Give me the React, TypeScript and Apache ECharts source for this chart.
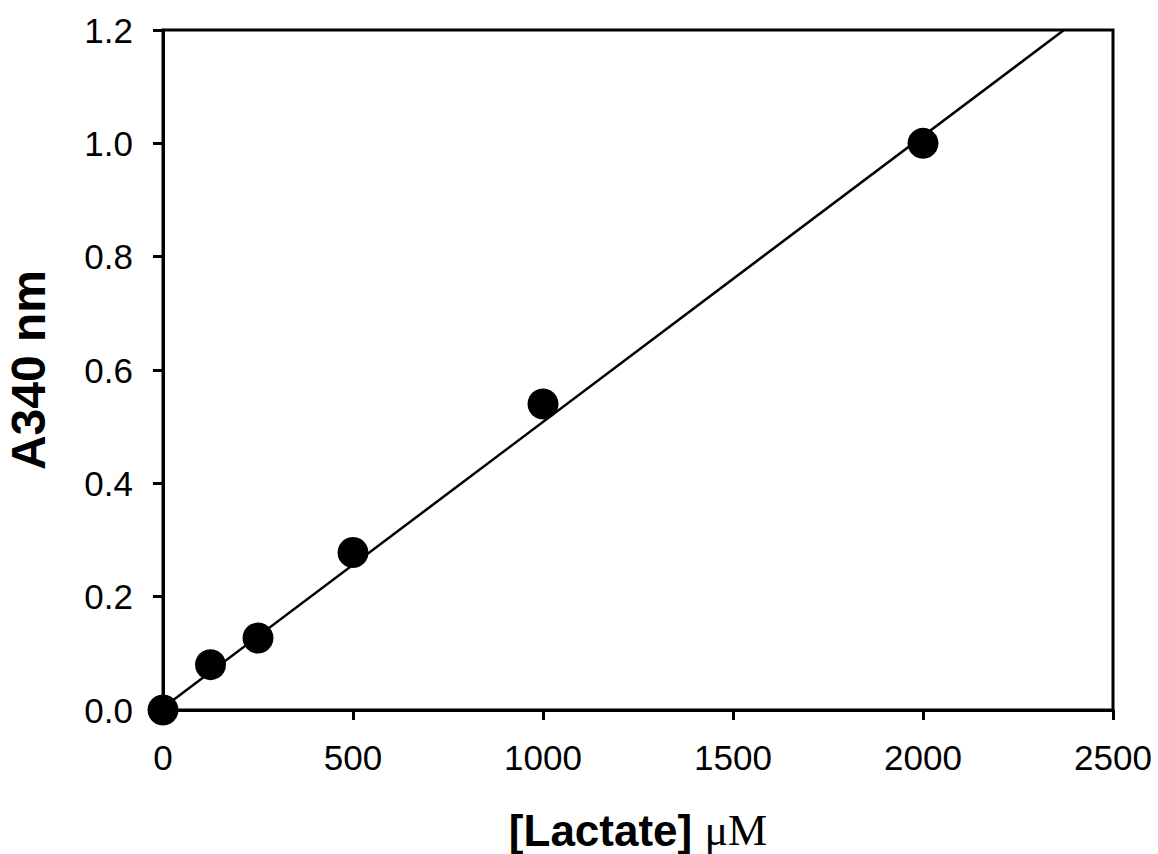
import React, { useEffect, useRef } from "react";
import * as echarts from "echarts";

// Measured points: [Lactate] (µM) vs A340 nm
const lactate = [0, 125, 250, 500, 1000, 2000];
const absorbance = [0, 0.08, 0.127, 0.278, 0.54, 1.0];

// Regression line endpoints
const fitLactate = [0, 2371];
const fitAbsorbance = [0.004, 1.2];

const xTicks = { min: 0, max: 2500, interval: 500 };
const yTicks = { min: 0, max: 1.2, interval: 0.2 };

const FONT = "'Liberation Sans', Arial, sans-serif";

export default function App() {
  const ref = useRef<HTMLDivElement>(null);

  useEffect(() => {
    if (!ref.current) return;
    const chart = echarts.init(ref.current, undefined, { renderer: "svg" });
    const points = lactate.map((x, i) => [x, absorbance[i]]);
    const fit = fitLactate.map((x, i) => [x, fitAbsorbance[i]]);

    chart.setOption({
      animation: false,
      backgroundColor: "#ffffff",
      grid: {
        left: 163,
        right: 45,
        top: 30,
        bottom: 144,
        show: true,
        borderColor: "#000",
        borderWidth: 3,
        backgroundColor: "transparent",
        containLabel: false,
        outerBoundsMode: "none",
      },
      xAxis: {
        type: "value",
        min: xTicks.min,
        max: xTicks.max,
        interval: xTicks.interval,
        name: "{a|[Lactate]\u00a0}{b|μM}",
        nameLocation: "middle",
        nameGap: 98,
        nameTextStyle: {
          rich: {
            a: { fontFamily: FONT, fontWeight: "bold", fontSize: 44, color: "#000" },
            b: { fontFamily: "'Liberation Serif', 'Times New Roman', serif", fontWeight: "normal", fontSize: 44, color: "#000" },
          },
        },
        axisLine: { show: true, lineStyle: { color: "#000", width: 3 } },
        axisTick: { show: true, inside: false, length: 10, lineStyle: { color: "#000", width: 3 } },
        axisLabel: {
          margin: 30,
          color: "#000",
          fontFamily: FONT,
          fontSize: 35,
          formatter: (v: number) => String(v),
        },
        splitLine: { show: false },
      },
      yAxis: {
        type: "value",
        min: yTicks.min,
        max: yTicks.max,
        interval: yTicks.interval,
        name: "A340 nm",
        nameLocation: "middle",
        nameGap: 111,
        nameTextStyle: { fontFamily: FONT, fontWeight: "bold", fontSize: 48, color: "#000" },
        axisLine: { show: true, lineStyle: { color: "#000", width: 3 } },
        axisTick: { show: true, inside: false, length: 10, lineStyle: { color: "#000", width: 3 } },
        axisLabel: {
          margin: 30,
          color: "#000",
          fontFamily: FONT,
          fontSize: 35,
          formatter: (v: number) => v.toFixed(1),
        },
        splitLine: { show: false },
      },
      series: [
        {
          type: "line",
          data: fit,
          showSymbol: false,
          symbol: "none",
          lineStyle: { color: "#000", width: 2.5 },
          z: 3,
        },
        {
          type: "scatter",
          data: points,
          symbol: "circle",
          symbolSize: 31,
          itemStyle: { color: "#000", opacity: 1 },
          emphasis: { disabled: true },
          clip: false,
          z: 4,
        },
      ],
    });

    return () => chart.dispose();
  }, []);

  return (
    <div
      ref={ref}
      style={{ position: "fixed", left: 0, top: 0, width: 1158, height: 854, background: "#fff" }}
    />
  );
}
